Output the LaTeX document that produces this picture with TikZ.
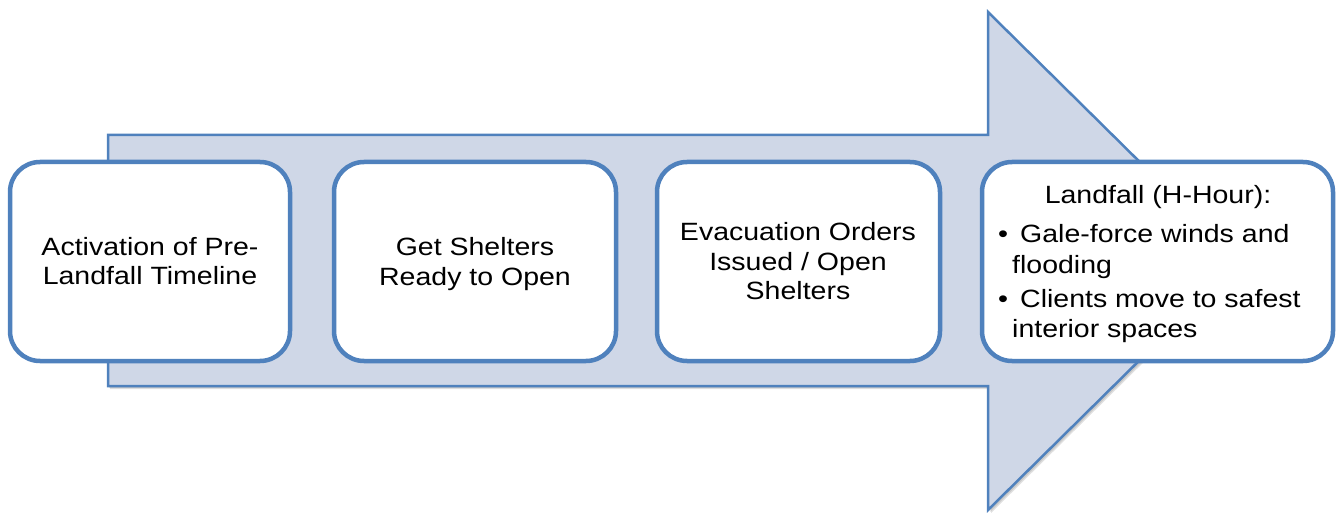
\documentclass[tikz,border=0pt]{standalone}
\usepackage{fontspec}
\setmainfont[FakeStretch=1.14]{Liberation Sans}
\definecolor{edgeblue}{HTML}{4F81BD}
\definecolor{arrowfill}{HTML}{CFD7E7}
\begin{document}
\begin{tikzpicture}[x=1pt,y=-1pt,
  box/.style={draw=edgeblue, line width=4.5pt, fill=white, rounded corners=30pt, minimum height=199pt, inner sep=0pt},
  txt/.style={inner sep=0pt, anchor=base, font=\fontsize{25}{29.5}\selectfont},
  ltxt/.style={txt, anchor=base west}]
\useasboundingbox (0,0) rectangle (1339,513);
% shadow
\fill[black, opacity=0.12] (110,138) -- (991,138) -- (991,15) -- (1243,264) -- (991,513) -- (991,389) -- (110,389) -- cycle;
\fill[black, opacity=0.10] (109,137) -- (990,137) -- (990,14) -- (1242,263) -- (990,512) -- (990,388) -- (109,388) -- cycle;
% arrow
\draw[edgeblue, line width=2.5pt, fill=arrowfill, line join=miter]
  (108,135) -- (988,135) -- (988,12) -- (1240,261) -- (988,510) -- (988,386) -- (108,386) -- cycle;
% boxes
\node[box, minimum width=280pt] (b1) at (150,261.5) {};
\node[box, minimum width=282pt] (b2) at (475,261.5) {};
\node[box, minimum width=283pt] (b3) at (798.5,261.5) {};
\node[box, minimum width=351pt] (b4) at (1157.5,261.5) {};
% texts
\node[txt] (t1a) at (150,256) {Activation of Pre-};
\node[txt] (t1b) at (150,284) {Landfall Timeline};
\node[txt] (t2a) at (475,256) {Get Shelters};
\node[txt] (t2b) at (475,285) {Ready to Open};
\node[txt] (t3a) at (798,241) {Evacuation Orders};
\node[txt] (t3b) at (798,270) {Issued / Open};
\node[txt] (t3c) at (798,299) {Shelters};
\node[txt] (t4) at (1158,204) {Landfall (H-Hour):};
\node[ltxt] (bu1) at (998,243) {•};
\node[ltxt] (t4a) at (1020,243) {Gale-force winds and};
\node[ltxt] (t4b) at (1012,273) {flooding};
\node[ltxt] (bu2) at (998,307) {•};
\node[ltxt] (t4c) at (1020,307) {Clients move to safest};
\node[ltxt] (t4d) at (1012,337) {interior spaces};
\end{tikzpicture}
\end{document}
